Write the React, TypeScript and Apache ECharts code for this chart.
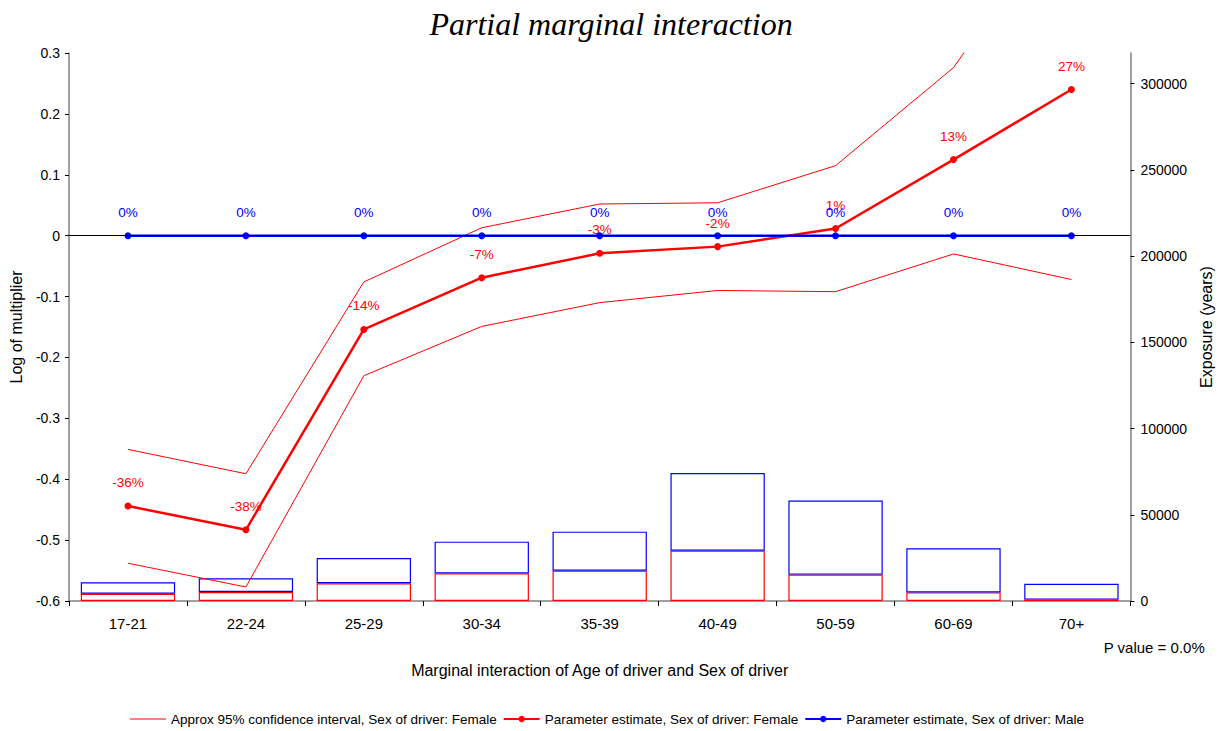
import React, { useEffect, useRef } from "react";
import * as echarts from "echarts";

const categories = ["17-21", "22-24", "25-29", "30-34", "35-39", "40-49", "50-59", "60-69", "70+"];
const femaleEstimate = [-0.444, -0.483, -0.154, -0.069, -0.029, -0.018, 0.0117, 0.125, 0.24];
const femaleUpper = [-0.351, -0.391, -0.076, 0.013, 0.052, 0.054, 0.115, 0.276, 0.552];
const femaleLower = [-0.538, -0.577, -0.23, -0.149, -0.11, -0.09, -0.092, -0.03, -0.072];
const maleEstimate = [0, 0, 0, 0, 0, 0, 0, 0, 0];
const exposureFemale = [4200, 5200, 10300, 16000, 17600, 29200, 15300, 5000, 800];
const exposureMale = [6600, 8000, 14600, 18400, 22600, 45000, 42900, 25600, 9200];
const leftTicks = [-0.6, -0.5, -0.4, -0.3, -0.2, -0.1, 0, 0.1, 0.2, 0.3];
const rightTicks = [0, 50000, 100000, 150000, 200000, 250000, 300000];

const CI_NAME = "Approx 95% confidence interval, Sex of driver: Female";
const F_NAME = "Parameter estimate, Sex of driver: Female";
const M_NAME = "Parameter estimate, Sex of driver: Male";
const FONT = "'Liberation Sans', Arial, sans-serif";

const pct = (v: number) => Math.round((Math.exp(v) - 1) * 100) + "%";

export default function App() {
  const ref = useRef<HTMLDivElement>(null);
  useEffect(() => {
    if (!ref.current) return;
    const chart = echarts.init(ref.current, undefined, { renderer: "svg" });
    const option: any = {
      animation: false,
      backgroundColor: "#ffffff",
      textStyle: { fontFamily: FONT },
      title: {
        text: "Partial marginal interaction",
        left: "center",
        top: 3,
        textStyle: { fontFamily: "'Liberation Serif', 'Times New Roman', serif", fontStyle: "italic", fontWeight: "normal", fontSize: 32, color: "#000" },
      },
      legend: {
        bottom: 0,
        left: 125,
        itemWidth: 36,
        itemHeight: 8,
        itemGap: 6,
        textStyle: { fontFamily: FONT, fontSize: 13.5, color: "#000" },
        data: [
          { name: CI_NAME, icon: "path://M0,0L36,0L36,1L0,1Z", itemStyle: { color: "#ff0000" } },
          { name: F_NAME },
          { name: M_NAME },
        ],
      },
      graphic: [
        {
          type: "text",
          right: 17,
          top: 640,
          style: { text: "P value = 0.0%", fontFamily: FONT, fontSize: 15, fill: "#000" },
        },
      ],
      grid: { left: 69, right: 91, top: 53, bottom: 130, containLabel: false },
      xAxis: {
        type: "category",
        data: categories,
        boundaryGap: true,
        name: "Marginal interaction of Age of driver and Sex of driver",
        nameLocation: "middle",
        nameGap: 61,
        nameTextStyle: { fontFamily: FONT, fontSize: 16, color: "#000" },
        axisLine: { onZero: false, lineStyle: { color: "#808080", width: 1.5 } },
        axisTick: { show: true, length: 5, inside: false, lineStyle: { color: "#000" } },
        axisLabel: { fontFamily: FONT, fontSize: 15, color: "#000", margin: 15 },
        splitLine: { show: false },
      },
      yAxis: [
        {
          type: "value",
          min: -0.6,
          max: 0.3,
          interval: 0.1,
          name: "Log of multiplier",
          nameLocation: "middle",
          nameRotate: 90,
          nameGap: 42,
          nameTextStyle: { fontFamily: FONT, fontSize: 16, color: "#000" },
          axisLine: { show: true, lineStyle: { color: "#808080", width: 1.5 } },
          axisTick: { show: true, length: 4, lineStyle: { color: "#000" }, customValues: leftTicks },
          axisLabel: {
            fontFamily: FONT,
            fontSize: 14,
            color: "#000",
            margin: 9,
            customValues: leftTicks,
            formatter: (v: number) => String(Math.round(v * 10) / 10),
          },
          splitLine: { show: false },
        },
        {
          type: "value",
          min: 0,
          max: 317700,
          name: "Exposure (years)",
          nameLocation: "middle",
          nameRotate: 90,
          nameGap: 62,
          nameTextStyle: { fontFamily: FONT, fontSize: 16, color: "#000" },
          axisLine: { show: true, lineStyle: { color: "#808080", width: 1.5 } },
          axisTick: { show: true, length: 4, lineStyle: { color: "#000" }, customValues: rightTicks },
          axisLabel: {
            fontFamily: FONT,
            fontSize: 14,
            color: "#000",
            margin: 10,
            customValues: rightTicks,
            formatter: (v: number) => String(Math.round(v)),
          },
          splitLine: { show: false },
        },
      ],
      series: [
        {
          name: "Exposure female",
          type: "bar",
          yAxisIndex: 1,
          stack: "exp",
          data: exposureFemale,
          barCategoryGap: "20%",
          itemStyle: { color: "rgba(0,0,0,0)", borderColor: "#ff0000", borderWidth: 1.2 },
          z: 1,
          silent: true,
        },
        {
          name: "Exposure male",
          type: "bar",
          yAxisIndex: 1,
          stack: "exp",
          data: exposureMale,
          barCategoryGap: "20%",
          itemStyle: { color: "rgba(0,0,0,0)", borderColor: "#0000ff", borderWidth: 1.2 },
          z: 1,
          silent: true,
        },
        {
          name: CI_NAME,
          type: "line",
          data: femaleUpper,
          symbol: "none",
          lineStyle: { color: "#ff0000", width: 1 },
          itemStyle: { color: "#ff0000" },
          clip: true,
          z: 2,
          markLine: {
            silent: true,
            symbol: "none",
            label: { show: false },
            lineStyle: { color: "#000", width: 1, type: "solid" },
            data: [{ yAxis: 0 }],
          },
        },
        {
          name: CI_NAME,
          type: "line",
          data: femaleLower,
          symbol: "none",
          lineStyle: { color: "#ff0000", width: 1 },
          itemStyle: { color: "#ff0000" },
          clip: true,
          z: 2,
        },
        {
          name: F_NAME,
          type: "line",
          data: femaleEstimate,
          symbol: "circle",
          symbolSize: 7,
          lineStyle: { color: "#ff0000", width: 2.5 },
          itemStyle: { color: "#ff0000" },
          label: {
            show: true,
            position: "top",
            distance: 13,
            color: "#ff0000",
            fontFamily: FONT,
            fontSize: 13.5,
            formatter: (p: any) => pct(p.value),
          },
          z: 3,
        },
        {
          name: M_NAME,
          type: "line",
          data: maleEstimate,
          symbol: "circle",
          symbolSize: 7,
          lineStyle: { color: "#0000ff", width: 2.5 },
          itemStyle: { color: "#0000ff" },
          label: {
            show: true,
            position: "top",
            distance: 13,
            color: "#0000ff",
            fontFamily: FONT,
            fontSize: 13.5,
            formatter: (p: any) => pct(p.value),
          },
          z: 4,
        },
      ],
    };
    chart.setOption(option);
    return () => chart.dispose();
  }, []);
  return (
    <div
      ref={ref}
      style={{ position: "fixed", left: 0, top: 0, width: 1222, height: 731, background: "#fff" }}
    />
  );
}
